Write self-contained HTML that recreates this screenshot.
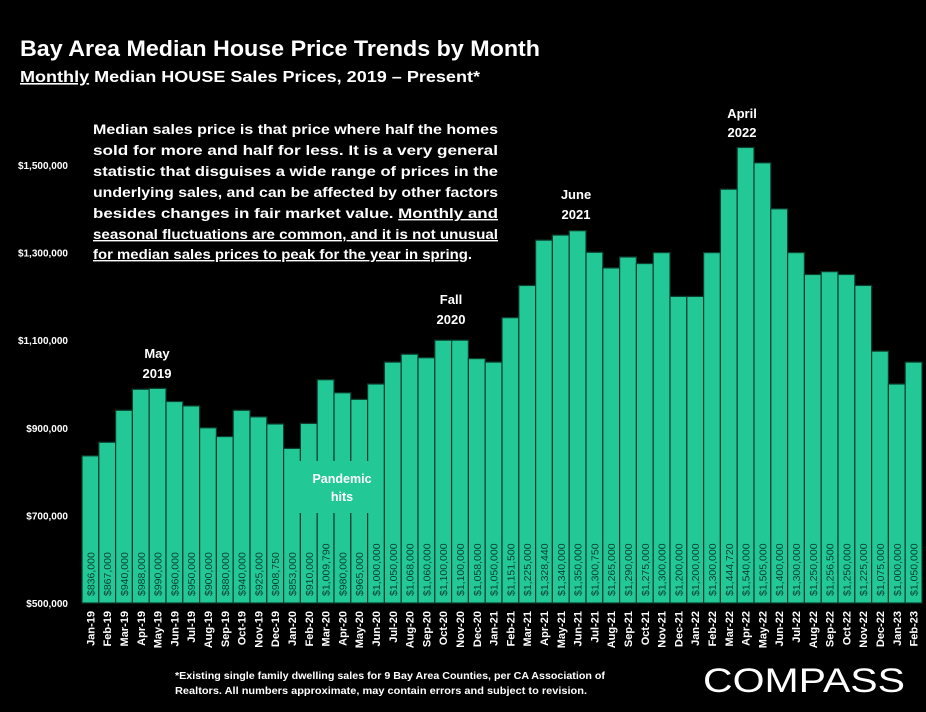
<!DOCTYPE html>
<html><head><meta charset="utf-8"><style>
html,body{margin:0;padding:0;background:#000;}
svg{display:block;font-family:"Liberation Sans",sans-serif;}
</style></head><body>
<svg id="chart" width="926" height="712" viewBox="0 0 926 712">
<rect x="0" y="0" width="926" height="712" fill="#000"/>
<text x="20" y="56" fill="#fff" font-size="22" font-weight="bold" textLength="520" lengthAdjust="spacingAndGlyphs">Bay Area Median House Price Trends by Month</text>
<text x="20" y="82" fill="#fff" font-size="16" font-weight="bold" textLength="460" lengthAdjust="spacingAndGlyphs"><tspan text-decoration="underline">Monthly</tspan> Median HOUSE Sales Prices, 2019 – Present*</text>
<g id="yaxis"></g>
<g id="bars"></g>
<g id="xaxis"></g>
<rect x="286" y="461" width="96" height="52" fill="#22c997"/>
<text x="342" y="483" fill="#fff" font-size="12.5" font-weight="bold" text-anchor="middle">Pandemic</text>
<text x="342" y="501" fill="#fff" font-size="12.5" font-weight="bold" text-anchor="middle">hits</text>
<g fill="#fff" font-size="13" font-weight="bold" text-anchor="middle">
<text x="157" y="358">May</text><text x="157" y="378">2019</text>
<text x="451" y="304">Fall</text><text x="451" y="324">2020</text>
<text x="576" y="199">June</text><text x="576" y="219">2021</text>
<text x="742" y="118">April</text><text x="742" y="137">2022</text>
</g>
<g fill="#fff" font-size="14" font-weight="bold">
<text x="93" y="134" textLength="405" lengthAdjust="spacingAndGlyphs">Median sales price is that price where half the homes</text>
<text x="93" y="155" textLength="405" lengthAdjust="spacingAndGlyphs">sold for more and half for less. It is a very general</text>
<text x="93" y="176" textLength="405" lengthAdjust="spacingAndGlyphs">statistic that disguises a wide range of prices in the</text>
<text x="93" y="197" textLength="405" lengthAdjust="spacingAndGlyphs">underlying sales, and can be affected by other factors</text>
<text x="93" y="218" textLength="405" lengthAdjust="spacingAndGlyphs">besides changes in fair market value. <tspan text-decoration="underline">Monthly and</tspan></text>
<text x="93" y="239" textLength="405" lengthAdjust="spacingAndGlyphs" text-decoration="underline">seasonal fluctuations are common, and it is not unusual</text>
<text x="93" y="259" textLength="379" lengthAdjust="spacingAndGlyphs"><tspan text-decoration="underline">for median sales prices to peak for the year in spring</tspan>.</text>
</g>
<text x="175" y="679" fill="#fff" font-size="10.5" font-weight="bold" textLength="430" lengthAdjust="spacingAndGlyphs">*Existing single family dwelling sales for 9 Bay Area Counties, per CA Association of</text>
<text x="175" y="694" fill="#fff" font-size="10.5" font-weight="bold" textLength="412" lengthAdjust="spacingAndGlyphs">Realtors. All numbers approximate, may contain errors and subject to revision.</text>
<text x="703" y="692" fill="#fff" font-size="34" textLength="202" lengthAdjust="spacingAndGlyphs">COMPASS</text>
</svg>
<script>
const categories = ["Jan-19","Feb-19","Mar-19","Apr-19","May-19","Jun-19","Jul-19","Aug-19","Sep-19","Oct-19","Nov-19","Dec-19",
"Jan-20","Feb-20","Mar-20","Apr-20","May-20","Jun-20","Jul-20","Aug-20","Sep-20","Oct-20","Nov-20","Dec-20",
"Jan-21","Feb-21","Mar-21","Apr-21","May-21","Jun-21","Jul-21","Aug-21","Sep-21","Oct-21","Nov-21","Dec-21",
"Jan-22","Feb-22","Mar-22","Apr-22","May-22","Jun-22","Jul-22","Aug-22","Sep-22","Oct-22","Nov-22","Dec-22",
"Jan-23","Feb-23"];
const prices = [836000,867000,940000,988000,990000,960000,950000,900000,880000,940000,925000,908750,
853000,910000,1009790,980000,965000,1000000,1050000,1068000,1060000,1100000,1100000,1058000,
1050000,1151500,1225000,1328440,1340000,1350000,1300750,1265000,1290000,1275000,1300000,1200000,
1200000,1300000,1444720,1540000,1505000,1400000,1300000,1250000,1256500,1250000,1225000,1075000,
1000000,1050000];
const yTicks = [500000,700000,900000,1100000,1300000,1500000];
const yTickLabels = ["$500,000","$700,000","$900,000","$1,100,000","$1,300,000","$1,500,000"];

const NS="http://www.w3.org/2000/svg";
const y0=603, pxPer=438/1000000, x0=82, slot=840/categories.length;
function yScale(v){return y0-(v-500000)*pxPer;}
function xScale(i){return x0+i*slot;}
function mk(tag,attrs,parent){const e=document.createElementNS(NS,tag);for(const k in attrs)e.setAttribute(k,attrs[k]);parent.appendChild(e);return e;}
function fmt(v){return "$"+v.toLocaleString("en-US");}

const ya=document.getElementById("yaxis");
yTicks.forEach((t,i)=>{
  const tx=mk("text",{x:68,y:yScale(t)+4,fill:"#fff","font-size":"10","font-weight":"bold","text-anchor":"end"},ya);
  
  
  tx.textContent=yTickLabels[i];
});
const bg=document.getElementById("bars"), xa=document.getElementById("xaxis");
prices.forEach((v,i)=>{
  const x=xScale(i), y=yScale(v);
  const r=mk("rect",{x:x,y:y,width:slot,height:y0-y,fill:"#22c997",stroke:"#0b3d2c","stroke-width":"1.2"},bg);
  
  
  const cx=x+slot/2+4;
  const vl=mk("text",{x:cx,y:596,fill:"#0b3d2c","font-size":"10.5","transform":"rotate(-90 "+cx+" 596)"},bg);
  
  
  vl.textContent=fmt(v);
  const lx=x+slot/2+4;
  const xl=mk("text",{x:lx,y:611,fill:"#fff","font-size":"11","font-weight":"bold","text-anchor":"end","transform":"rotate(-90 "+lx+" 611)"},xa);
  
  
  xl.textContent=categories[i];
});
</script>
</body></html>
